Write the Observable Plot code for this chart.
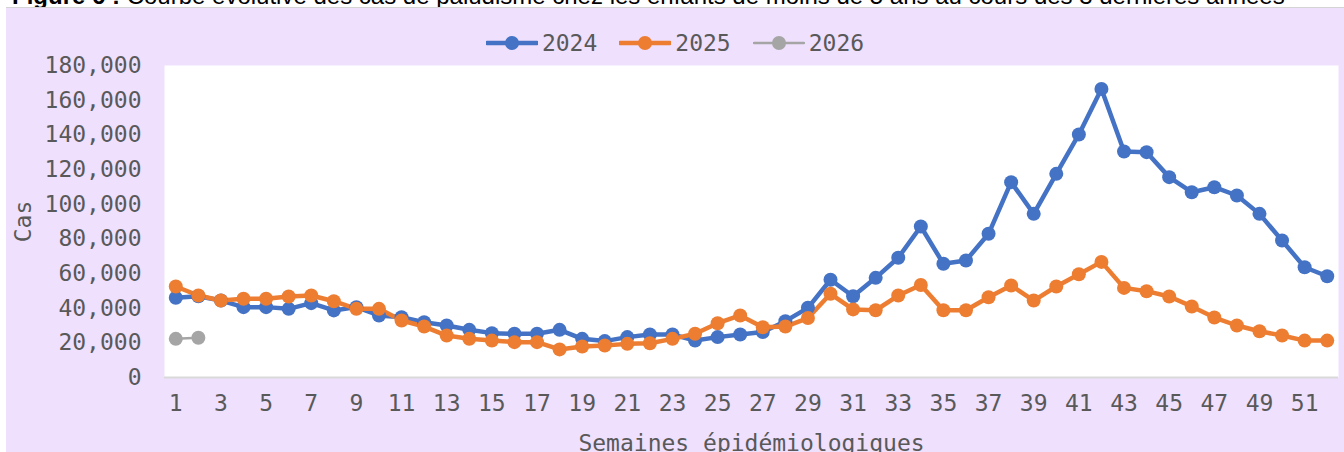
<!DOCTYPE html>
<html><head><meta charset="utf-8">
<script src="https://cdn.jsdelivr.net/npm/d3@7"></script>
<script src="https://cdn.jsdelivr.net/npm/@observablehq/plot@0.6"></script>
<style>
body{margin:0;width:1344px;height:452px;overflow:hidden;background:#fff;position:relative;font-family:"DejaVu Sans Mono",monospace;}
#title{position:absolute;left:12px;top:-16px;font:24px/24px "Liberation Sans",Arial,sans-serif;color:#000;white-space:nowrap;}
#panel{position:absolute;left:6px;top:7px;width:1338px;height:444px;background:#efe0fd;border-top:1px solid #d4d4d4;}
#chart{position:absolute;left:0;top:0;}
#legend{position:absolute;left:0;width:1338px;top:20px;height:30px;display:flex;justify-content:center;align-items:center;gap:22px;color:#595959;font-size:23px;}
.item{display:flex;align-items:center;gap:4px;}
</style></head>
<body>
<div id="title"><b>Figure 6 :</b> Courbe évolutive des cas de paludisme  chez les enfants de moins de 5 ans au cours des 3 dernières années</div>
<div id="panel"><div id="chart"></div><div id="legend"></div></div>
<script>
const weeks = d3.range(1, 53);
const cases2024 = [46000,46900,44400,40600,40600,39600,42900,38700,40600,35800,
  34800,31900,30000,27500,25600,25200,25200,27500,22300,21000,
  23300,24800,24800,21300,23300,24800,26200,32500,40200,56400,
  46900,57500,69100,87100,65600,67500,82900,112700,94400,117500,
  140200,166500,130400,130000,115600,106900,109800,105000,94400,79000,
  63600,58400];
const cases2025 = [52500,47300,44400,45400,45400,46700,47300,44000,39600,39600,
  32900,29400,24200,22300,21300,20400,20400,16200,17900,18500,
  19400,19800,22300,25200,31300,35800,29000,29400,34300,48300,
  39300,38800,47300,53400,38800,38800,46300,53100,44400,52500,
  59600,66700,51700,49800,46700,41000,34600,30000,26700,24200,
  21300,21300];
const cases2026 = [22300, 22900];
const years = ["2024", "2025", "2026"];
const colors = ["#4472C4", "#ED7D31", "#A5A5A5"];
const lineWidths = [4.5, 4.5, 2.5];
const xTicks = d3.range(1, 52, 2);
const yTicks = d3.range(0, 180001, 20000);
const xLabel = "Semaines épidémiologiques";
const yLabel = "Cas";

const series = [cases2024, cases2025, cases2026];
const rows = [];
series.forEach((arr, i) => arr.forEach((v, j) => rows.push({year: years[i], week: weeks[j], cases: v})));

const lineMarks = years.map((yr, i) =>
  Plot.line(rows.filter(d => d.year === yr), {x: "week", y: "cases", stroke: colors[i], strokeWidth: lineWidths[i]}));

const plot = Plot.plot({
  width: 1338, height: 444,
  marginLeft: 158, marginRight: 6, marginTop: 57, marginBottom: 75,
  style: {background: "transparent", fontFamily: "'DejaVu Sans Mono', monospace", fontSize: "23px", color: "#595959", overflow: "visible"},
  x: {domain: [0.5, 52.5]},
  y: {domain: [0, 180000]},
  color: {domain: years, range: colors},
  marks: [
    Plot.frame({fill: "white", stroke: "none"}),
    Plot.ruleY([0], {stroke: "#d9d9d9", strokeWidth: 2}),
    Plot.axisY({ticks: yTicks, tickFormat: d3.format(","), tickSize: 0, tickPadding: 23,
      label: yLabel, labelAnchor: "center", labelArrow: "none", labelOffset: 150, fill: "#595959"}),
    Plot.axisX({ticks: xTicks, tickSize: 0, tickPadding: 17, tickFormat: d => String(d),
      label: xLabel, labelAnchor: "center", labelArrow: "none", labelOffset: 73, fill: "#595959"}),
    ...lineMarks,
    Plot.dot(rows, {x: "week", y: "cases", fill: "year", r: 7, stroke: "none"})
  ]
});
document.getElementById("chart").appendChild(plot);

const legend = document.getElementById("legend");
years.forEach((yr, i) => {
  const it = document.createElement("div");
  it.className = "item";
  it.innerHTML = `<svg width="52" height="16"><line x1="1" x2="51" y1="8" y2="8" stroke="${colors[i]}" stroke-width="${lineWidths[i]}" stroke-linecap="round"/><circle cx="26" cy="8" r="7" fill="${colors[i]}"/></svg><span>${yr}</span>`;
  legend.appendChild(it);
});
</script>
</body></html>
